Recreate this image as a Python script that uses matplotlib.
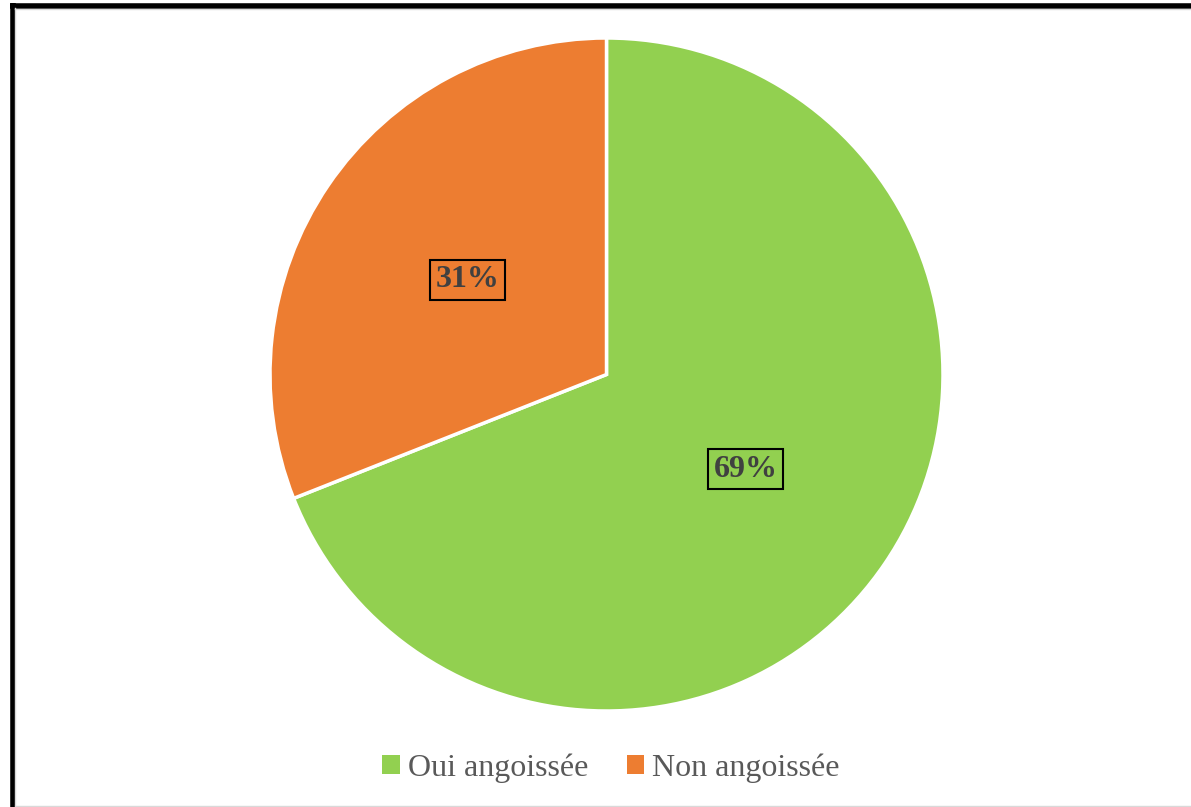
import matplotlib.pyplot as plt
from matplotlib.lines import Line2D
from matplotlib.patches import Patch

labels = ['Oui angoissée', 'Non angoissée']
values = [69, 31]
colors = ['#92d050', '#ed7d31']

W, H = 1191, 807
fig = plt.figure(figsize=(W / 100, H / 100), dpi=100)
fig.patch.set_facecolor('white')

# square pie area in pixels, centre about (606.5, 374.5)
ax = fig.add_axes([270 / W, (H - 711) / H, 673 / W, 673 / H])
wedges, texts, autotexts = ax.pie(
    values, colors=colors, startangle=90, counterclock=False,
    autopct='%1.0f%%', pctdistance=0.5,
    wedgeprops=dict(edgecolor='white', linewidth=2.5),
    textprops=dict(family='Liberation Serif', fontsize=23, fontweight='bold',
                   color='#404040'))
for t in autotexts:
    t.set_bbox(dict(facecolor='none', edgecolor='black', linewidth=1.5, pad=4))
ax.set_xlim(-1, 1)
ax.set_ylim(-1, 1)
ax.set_aspect('equal')
ax.axis('off')

# legend below the pie
handles = [Patch(facecolor=c, edgecolor='none') for c in colors]
leg = fig.legend(handles, labels, loc='center', bbox_to_anchor=(611 / W, (H - 768) / H),
                 ncol=2, frameon=False, handlelength=0.55, handleheight=0.55,
                 handletextpad=0.25, columnspacing=1.2,
                 prop=dict(family='Liberation Serif', size=23))
for t in leg.get_texts():
    t.set_color('#595959')

# outer black border (left and top) and light grey chart border
fig.add_artist(Line2D([12.5 / W, 12.5 / W], [0, 1 - 3 / H], color='black', linewidth=4,
                      transform=fig.transFigure, solid_capstyle='butt'))
fig.add_artist(Line2D([10 / W, 1], [1 - 5.5 / H, 1 - 5.5 / H], color='black', linewidth=4,
                      transform=fig.transFigure, solid_capstyle='butt'))
fig.add_artist(Line2D([15.5 / W, 15.5 / W], [2 / H, 1 - 8 / H], color='#d9d9d9', linewidth=1,
                      transform=fig.transFigure))
fig.add_artist(Line2D([15 / W, 1], [1 - 8.5 / H, 1 - 8.5 / H], color='#d9d9d9', linewidth=1,
                      transform=fig.transFigure))
fig.add_artist(Line2D([15 / W, 1], [1.5 / H, 1.5 / H], color='#d9d9d9', linewidth=1,
                      transform=fig.transFigure))

fig.savefig('out.png', dpi=100)
